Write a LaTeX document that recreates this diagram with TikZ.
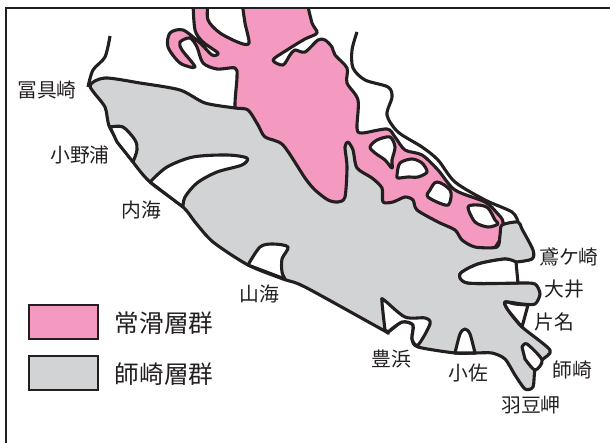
\documentclass[tikz,border=0pt]{standalone}
\usepackage{fontspec}
\setmainfont{Noto Sans CJK JP}
\definecolor{ink}{HTML}{231F20}
\definecolor{pinkrock}{HTML}{F49AC1}
\definecolor{grayrock}{HTML}{D1D3D4}
\tikzset{
  outline/.style={draw=ink,line width=3.1pt,line join=round,line cap=butt},
  place/.style={text=ink,font=\fontsize{19.8}{21}\selectfont,inner sep=0pt},
  legendtext/.style={text=ink,font=\fontsize{24.6}{26}\selectfont,inner sep=0pt},
  legendbox/.style={draw=ink,line width=1.8pt,minimum width=69pt,minimum height=34pt,inner sep=0pt},
}
\begin{document}
\begin{tikzpicture}[x=1pt,y=-1pt]
\path[use as bounding box] (0,0) rectangle (610,443);
\begin{scope}
\clip (0,8) rectangle (610,443);
% pink formation
\path[outline,fill=pinkrock] plot[smooth,tension=.5] coordinates {
 (193,2) (195,30) (203,42) (218,53) (212,55) (200,43) (183,30) (170,33) (168,47) (180,63) (195,67)
 (182,50) (180,42) (190,38) (197,47) (203,63) (217,69) (235,68) (237,77) (235,107) (240,130) (300,200)
 (420,230) (480,255) (500,240) (503,222) (497,213) (485,202) (455,190) (438,170) (422,155) (405,150) (395,137) (387,129)
 (362,133) (357,128) (358,100) (347,83) (347,68) (335,55) (332,47) (325,40) (318,40) (305,52) (295,50)
 (290,55) (283,65) (273,60) (287,50) (305,39) (317,33) (312,23) (307,2)} -- cycle;
\path[outline,fill=white] plot[smooth,tension=.5] coordinates {
 (208,2) (208,20) (220,33) (240,43) (249,43) (245,23) (242,2)} -- cycle;
\end{scope}
% gray formation
\path[outline,fill=grayrock] plot[smooth cycle,tension=.45] coordinates {
 (90,86) (105,78) (140,83) (180,90) (205,103) (235,108) (248,110) (258,125) (265,137) (283,145)
 (305,178) (315,190) (328,200) (338,202) (345,197) (347,167) (345,147) (348,142) (353,150) (357,168)
 (372,178) (382,188) (383,202) (393,202) (405,197) (413,200) (417,210) (438,222) (455,230) (462,240)
 (475,247) (497,247) (500,235) (502,225) (518,222) (522,229) (533,250) (532,259) (515,262) (505,259)
 (478,264) (460,274) (468,283) (518,283) (535,284) (540,294) (535,304) (522,304) (505,302) (508,310)
 (522,327) (550,350) (542,360) (535,370) (533,387) (525,389) (515,375) (505,359) (492,353) (475,353)
 (455,353) (418,347) (412,339) (413,325) (402,322) (388,332) (383,330) (305,287) (283,279) (248,265)
 (213,242) (195,222) (183,207) (150,182) (133,162) (110,128) (105,107)};
% bays
\path[outline,fill=white] plot[smooth,tension=.5] coordinates {(110,127) (123,127) (135,140) (137,150) (133,162)} -- (117,142) -- cycle;
\path[outline,fill=white] plot[smooth,tension=.5] coordinates {(150,182) (167,167) (193,157) (227,155) (247,158) (242,165) (217,172) (197,183) (185,197) (183,207)} -- cycle;
\path[outline,fill=white] plot[smooth,tension=.5] coordinates {(248,265) (260,247) (273,244) (288,247) (282,259) (282,272) (285,279)} -- cycle;
\path[outline,fill=white] plot[smooth,tension=.5] coordinates {(385,330) (382,302) (384,300) (405,317) (425,318) (430,324) (418,345) (412,339) (413,325) (402,322) (388,332)} -- cycle;
\path[outline,fill=white] plot[smooth,tension=.5] coordinates {(455,353) (460,334) (465,329) (470,334) (475,353)} -- cycle;
\path[outline,fill=white] plot[smooth,tension=.5] coordinates {(516,262) (505,259) (478,264) (460,274) (468,283) (518,283)} -- cycle;
\path[outline,fill=white] plot[smooth,tension=.5] coordinates {(528,305) (515,304) (505,302) (508,310) (522,327)} -- cycle;
\path[outline,fill=white] plot[smooth,tension=.5] coordinates {(522,347) (527,344) (542,360) (535,370) (525,359)} -- cycle;
% inclusions in the pink formation
\path[outline,fill=white] plot[smooth cycle,tension=.5] coordinates {(370,147) (377,140) (390,137) (395,147) (392,160) (392,168) (385,160) (375,153)};
\path[outline,fill=white] plot[smooth cycle,tension=.5] coordinates {(397,175) (400,163) (412,159) (422,163) (427,172) (418,177) (408,177) (398,178)};
\path[outline,fill=white] plot[smooth cycle,tension=.6] coordinates {(437,182) (450,190) (450,202) (445,205) (428,197) (430,190)};
\path[outline,fill=white] plot[smooth cycle,tension=.5] coordinates {(468,207) (478,205) (488,208) (495,220) (498,224) (488,227) (475,222)};
% coast lines
\draw[outline] plot[smooth,tension=.5] coordinates {(110,36) (105,57) (93,70) (88,87)};
\draw[outline] plot[smooth,tension=.5] coordinates {(357,32) (352,50) (353,68) (365,80) (388,87) (392,97) (387,115) (398,132) (422,147) (438,160) (455,182) (485,200) (512,212) (518,222)};
% frame
\draw[ink,line width=1.5pt] (6,443) -- (6,8) -- (610,8);
% place names
\node[place] (tomigu) at (47,90) {冨具崎};
\node[place] (ono) at (80,155) {小野浦};
\node[place] (uchiumi) at (141,210) {内海};
\node[place] (yamaumi) at (259,294) {山海};
\node[place] (toyohama) at (391,359) {豊浜};
\node[place] (osa) at (468,373) {小佐};
\node[place] (hazu) at (531,405) {羽豆岬};
\node[place] (morozaki) at (572,370) {師崎};
\node[place] (katana) at (554,322) {片名};
\node[place] (oi) at (564,289) {大井};
\node[place] (tobigasaki) at (569,257) {鳶ケ崎};
% legend
\node[legendbox,fill=pinkrock] (lp) at (63.5,322) {};
\node[legendbox,fill=grayrock] (lg) at (63.5,373) {};
\node[legendtext] (tp) at (164,323) {常滑層群};
\node[legendtext] (tg) at (164,374) {師崎層群};
\end{tikzpicture}
\end{document}
